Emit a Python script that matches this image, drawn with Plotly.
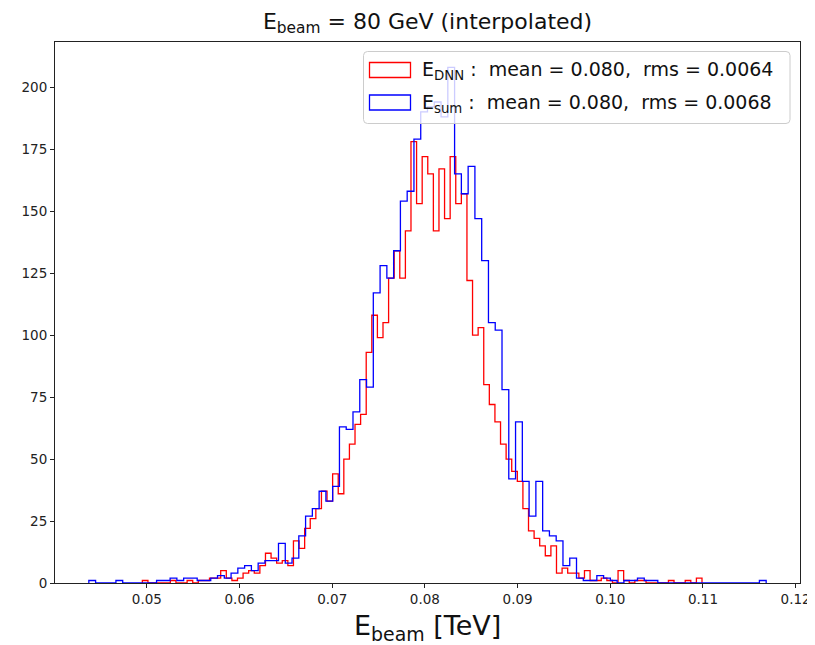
import numpy as np
import plotly.graph_objects as go

# ---------------- data ----------------
title_text = "E<sub>beam</sub> = 80 GeV (interpolated)"
xlabel_text = "E<sub>beam</sub> [TeV]"

n_bins = 100
dnn_range = (0.049514, 0.109897)   # E_DNN histogram range [TeV]
sum_range = (0.04374, 0.11682)     # E_sum histogram range [TeV]

dnn_counts = [
    1, 0, 0, 0, 0, 1, 0, 0, 1, 0,
    1, 1, 2, 2, 5, 2, 1, 2, 4, 5,
    4, 7, 12, 10, 8, 9, 7, 17, 14, 22,
    26, 30, 37, 33, 44, 36, 50, 56, 64, 68,
    93, 108, 99, 105, 123, 134, 123, 142, 178, 153,
    172, 165, 142, 167, 147, 172, 153, 157, 122, 100,
    103, 80, 72, 65, 56, 50, 45, 41, 30, 21,
    18, 15, 11, 15, 4, 6, 4, 4, 2, 5,
    1, 1, 2, 1, 0, 5, 1, 0, 1, 1,
    0, 0, 0, 0, 1, 0, 0, 1, 0, 2,
]
sum_counts = [
    1, 0, 0, 0, 1, 0, 0, 0, 0, 0,
    1, 1, 2, 1, 2, 2, 1, 1, 2, 3,
    2, 4, 6, 7, 5, 8, 9, 9, 16, 8,
    10, 19, 27, 30, 37, 33, 39, 63, 62, 69,
    82, 79, 117, 128, 123, 134, 154, 158, 179, 190,
    192, 194, 188, 208, 165, 157, 168, 147, 130, 105,
    102, 78, 42, 65, 41, 27, 41, 21, 19, 17,
    7, 10, 2, 1, 1, 3, 2, 1, 0, 1,
    1, 2, 1, 1, 0, 0, 0, 0, 0, 0,
    0, 0, 0, 0, 0, 0, 0, 0, 0, 1,
]

series = [
    ("E<sub>DNN</sub> :\u00a0\u00a0mean = 0.080,\u00a0\u00a0rms = 0.0064", dnn_range, dnn_counts, "#ff0000"),
    ("E<sub>sum</sub> :\u00a0\u00a0mean = 0.080,\u00a0\u00a0rms = 0.0068", sum_range, sum_counts, "#0000ff"),
]

x_ticks = [0.05, 0.06, 0.07, 0.08, 0.09, 0.10, 0.11, 0.12]
y_ticks = [0, 25, 50, 75, 100, 125, 150, 175, 200]
x_range = [0.04009, 0.12047]
y_range = [0, 218.2]

# ---------------- figure ----------------
fig = go.Figure()

def step_path(rng, counts):
    edges = np.linspace(rng[0], rng[1], n_bins + 1)
    c = np.asarray(counts, dtype=float)
    xs = np.repeat(edges, 2)
    ys = np.concatenate([[0.0], np.repeat(c, 2), [0.0]])
    return xs, ys

for name, rng, counts, color in series:
    xs, ys = step_path(rng, counts)
    fig.add_trace(go.Scatter(x=xs, y=ys, mode="lines", name=name,
                             line=dict(color=color, width=1.3),
                             showlegend=False, hoverinfo="skip"))

# page body margin offset (screen px)
OX, OY = 8, 8
W, H = 807, 637
L, T = 55 - OX, 42 - OY
R = W - (800 - OX)
B = H - (583 - OY)
pw, ph = W - L - R, H - T - B

def px2paper(sx, sy):
    """screen pixel -> paper coordinate"""
    px, py = sx - OX, sy - OY
    return (px - L) / pw, (H - B - py) / ph

shapes = []
# legend box (semi transparent, rounded)
bx0, by0 = px2paper(363.5, 51.5)
bx1, by1 = px2paper(790, 123.5)
rx, ry = 4 / pw, 4 / ph
path = (f"M {bx0+rx},{by0} L {bx1-rx},{by0} Q {bx1},{by0} {bx1},{by0-ry} "
        f"L {bx1},{by1+ry} Q {bx1},{by1} {bx1-rx},{by1} "
        f"L {bx0+rx},{by1} Q {bx0},{by1} {bx0},{by1+ry} "
        f"L {bx0},{by0-ry} Q {bx0},{by0} {bx0+rx},{by0} Z")
shapes.append(dict(type="path", path=path, xref="paper", yref="paper",
                   fillcolor="rgba(255,255,255,0.8)",
                   line=dict(color="rgba(204,204,204,1)", width=1), layer="above"))

annotations = []
rows_y = [(62.5, 77.5, 70.5), (95, 110, 103)]
for (name, rng, counts, color), (ya, yb, yc) in zip(series, rows_y):
    x0p, y0p = px2paper(369.5, ya)
    x1p, y1p = px2paper(410.5, yb)
    shapes.append(dict(type="rect", xref="paper", yref="paper",
                       x0=x0p, x1=x1p, y0=y1p, y1=y0p,
                       line=dict(color=color, width=1.3),
                       fillcolor="rgba(0,0,0,0)", layer="above"))
    tx, ty = px2paper(420, yc)
    annotations.append(dict(text=name, x=tx, y=ty, xref="paper", yref="paper",
                            xanchor="left", yanchor="middle", showarrow=False,
                            font=dict(family="DejaVu Sans", size=19, color="#111111")))

# x-axis label as an annotation (exact placement)
lx, ly = px2paper(427.5, 627)
annotations.append(dict(text=xlabel_text, x=lx, y=ly, xref="paper", yref="paper",
                        xanchor="center", yanchor="middle", showarrow=False,
                        font=dict(family="DejaVu Sans", size=27, color="#111111")))

fig.update_layout(
    width=W, height=H,
    margin=dict(l=L, r=R, t=T, b=B, pad=0, autoexpand=False),
    paper_bgcolor="white", plot_bgcolor="white",
    font=dict(family="DejaVu Sans", color="#111111"),
    title=dict(text=title_text, x=(L + pw / 2) / W, xanchor="center",
               y=1 - (21 - OY) / H, yanchor="middle",
               font=dict(family="DejaVu Sans", size=22, color="#111111")),
    shapes=shapes,
    annotations=annotations,
    showlegend=False,
)
fig.update_xaxes(range=x_range, tickvals=x_ticks,
                 ticktext=[f"{v:.2f}" for v in x_ticks],
                 showgrid=False, zeroline=False, automargin=False,
                 showline=True, mirror=True, linecolor="#222222", linewidth=1,
                 ticks="outside", ticklen=4, tickwidth=1, tickcolor="#222222",
                 tickfont=dict(family="DejaVu Sans", size=13.5, color="#222222"))
fig.update_yaxes(range=y_range, tickvals=y_ticks,
                 showgrid=False, zeroline=False, automargin=False,
                 showline=True, mirror=True, linecolor="#222222", linewidth=1,
                 ticks="outside", ticklen=4, tickwidth=1, tickcolor="#222222",
                 tickfont=dict(family="DejaVu Sans", size=13.5, color="#222222"))

fig.write_html("out.html")
